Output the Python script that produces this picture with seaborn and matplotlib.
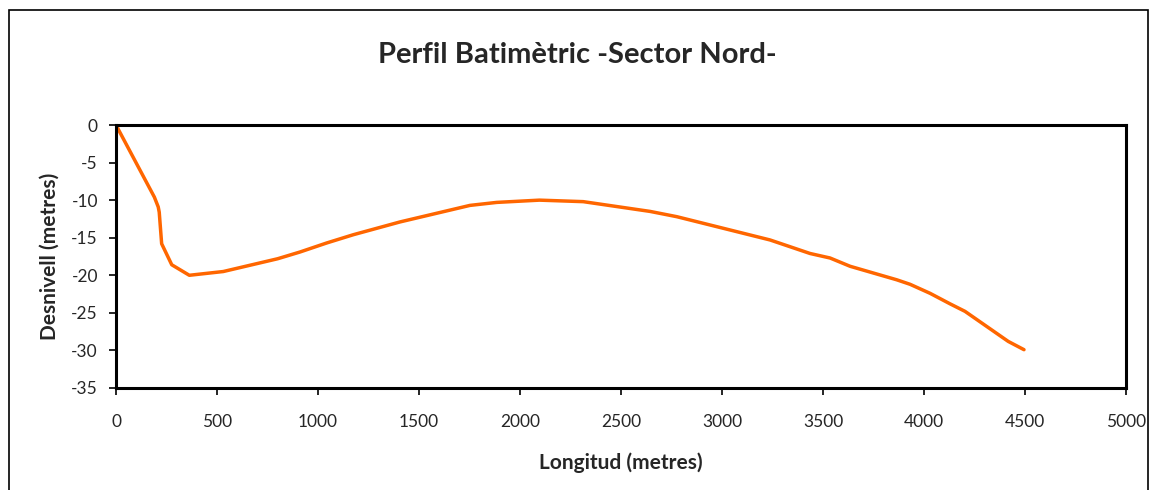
import matplotlib
matplotlib.use("Agg")
import matplotlib.pyplot as plt
import seaborn as sns
import pandas as pd
from matplotlib.patches import Rectangle

longitud = [0, 190, 209, 214, 226, 276, 363, 531, 800, 911, 1043, 1175, 1406, 1752, 1885,
            2096, 2313, 2644, 2776, 3238, 3436, 3535, 3634, 3865, 3931, 4030, 4129,
            4203, 4417, 4495]
desnivell = [0, -9.6, -10.9, -11.6, -15.8, -18.6, -20.0, -19.5, -17.8, -16.9, -15.7,
             -14.6, -12.9, -10.7, -10.3, -10.0, -10.2, -11.5, -12.2, -15.3, -17.1, -17.7,
             -18.8, -20.6, -21.2, -22.4, -23.8, -24.8, -28.8, -29.9]
x_ticks = [0, 500, 1000, 1500, 2000, 2500, 3000, 3500, 4000, 4500, 5000]
y_ticks = [0, -5, -10, -15, -20, -25, -30, -35]

df = pd.DataFrame({"Longitud": longitud, "Desnivell": desnivell})

sns.set_style("white")
plt.rcParams['font.family'] = ['Lato', 'DejaVu Sans']

fig = plt.figure(figsize=(11.55, 4.9), dpi=100)
ax = fig.add_axes([116 / 1155, 1 - 388 / 490, (1126 - 116) / 1155, (388 - 125) / 490])

sns.lineplot(data=df, x="Longitud", y="Desnivell", ax=ax, color="#FF6600",
             linewidth=2.5, sort=False)

ax.set_xlim(0, 5000)
ax.set_ylim(-35, 0)
ax.set_xticks(x_ticks)
ax.set_yticks(y_ticks)
ax.set_xticklabels([str(v) for v in x_ticks], fontsize=12.5)
ax.set_yticklabels([str(v) for v in y_ticks], fontsize=12.5)
ax.tick_params(axis="x", direction="out", length=5, width=1.2, color="black",
               bottom=True, pad=14)
ax.tick_params(axis="y", direction="out", length=5, width=1.2, color="black",
               left=True, pad=8)
for s in ax.spines.values():
    s.set_visible(True)
    s.set_color("black")
    s.set_linewidth(2.2)

ax.set_xlabel("Longitud (metres)", fontsize=15, fontweight="bold", labelpad=16)
ax.set_ylabel("Desnivell (metres)", fontsize=15, fontweight="bold", labelpad=8)
fig.text(0.5, 1 - 55 / 490, "Perfil Batimètric -Sector Nord-", ha="center",
         va="center", fontsize=21, fontweight="bold")

fig.patches.append(Rectangle((9 / 1155, -0.05), (1148 - 9) / 1155, 1.05 - 10 / 490,
                             transform=fig.transFigure, fill=False,
                             edgecolor="black", linewidth=1.2))

fig.savefig("out.png", dpi=100)
